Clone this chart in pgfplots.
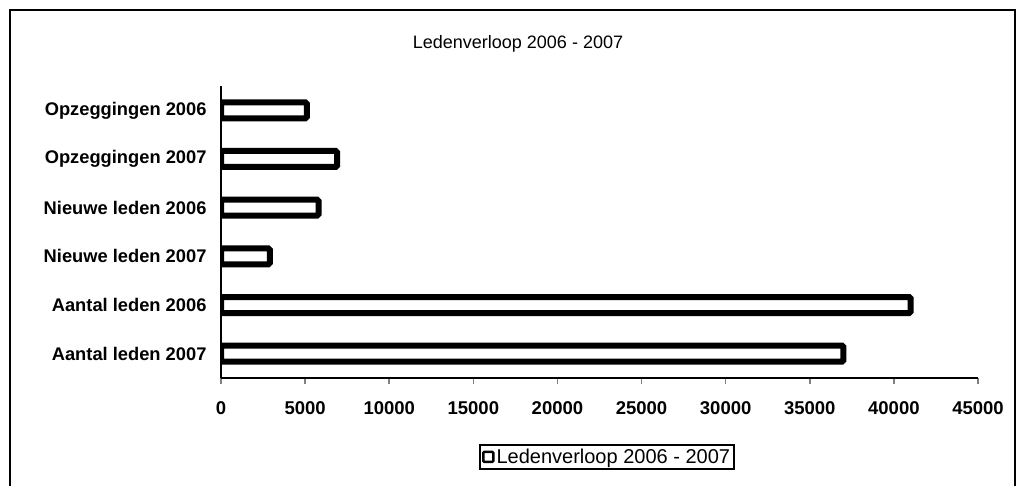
\documentclass[border=0pt]{standalone}
\usepackage{fontspec}
\setmainfont{Liberation Sans}
\usepackage{pgfplots}
\pgfplotsset{compat=1.18}
\begin{document}
\begin{tikzpicture}[x=1pt,y=1pt]
\useasboundingbox (0,0) rectangle (1025,485);
\draw[line width=1.5pt] (10,-5) -- (10,475) -- (1015,475) -- (1015,-5);
\node[font=\fontsize{18}{21}\selectfont] at (518,441) {Ledenverloop 2006 - 2007};
\begin{axis}[
  at={(221pt,107pt)}, anchor=south west,
  scale only axis, width=757pt, height=292pt,
  xmin=0, xmax=45000, ymin=-0.5, ymax=5.5,
  xbar, bar width=16pt,
  axis x line*=bottom, axis y line*=left,
  axis line style={-, line width=1.8pt},
  xtick={0,5000,...,45000},
  x tick style={line width=1.5pt},
  tick align=outside, major tick length=6pt,
  ytick={0,1,2,3,4,5},
  yticklabels={Aantal leden 2007,Aantal leden 2006,Nieuwe leden 2007,Nieuwe leden 2006,Opzeggingen 2007,Opzeggingen 2006},
  y tick style={draw=none},
  scaled x ticks=false,
  /pgf/number format/.cd, set thousands separator={}, assume math mode=true, /pgfplots/.cd,
  xticklabel style={font=\bfseries\fontsize{18.5}{21}\selectfont, yshift=-14pt},
  yticklabel style={font=\bfseries\fontsize{18.3}{21}\selectfont, xshift=-5pt},
  legend style={at={(0.51,-0.27)}, anchor=center, draw=black, line width=1.5pt,
    font=\fontsize{20}{23}\selectfont, inner sep=2pt},
  legend image code/.code={\draw[line width=2.5pt, fill=white, rounded corners=1pt] (-2pt,-5pt) rectangle (8pt,5pt);},
]
\addplot[draw=black, line width=6pt, fill=white, rounded corners=1.5pt]
  coordinates {(37000,0) (41000,1) (2900,2) (5800,3) (6900,4) (5100,5)};
\addlegendentry{Ledenverloop 2006 - 2007}
\end{axis}
\end{tikzpicture}
\end{document}
